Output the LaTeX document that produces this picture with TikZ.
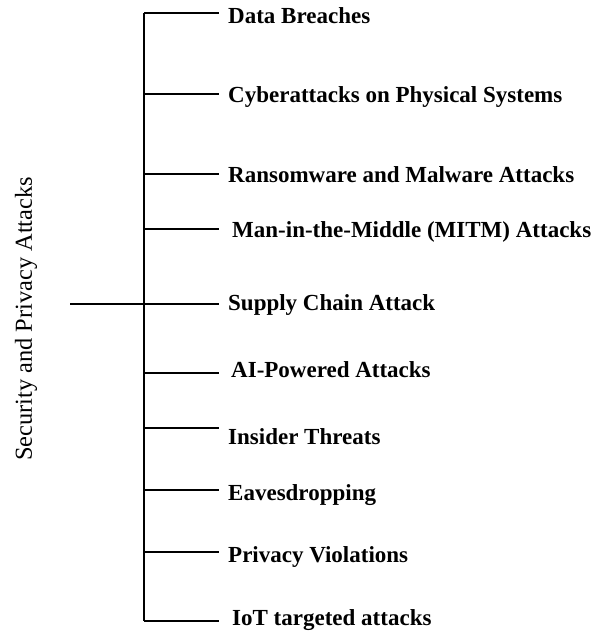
\documentclass[tikz,border=0pt]{standalone}
\usepackage{fontspec}
\setmainfont{Liberation Serif}
\usetikzlibrary{positioning}

\begin{document}
\begin{tikzpicture}[x=1pt, y=-1pt]

% Define styles
\tikzstyle{leaf} = [anchor=west, inner xsep=9pt, inner ysep=0pt, font=\fontsize{23}{26}\selectfont\bfseries]
\tikzstyle{line} = [line width=1.3pt]

\useasboundingbox (0,0) rectangle (596,632);

% Root label
\node[rotate=90, font=\fontsize{24.4}{28}\selectfont] (root) at (26,319) {Security and Privacy Attacks};
\coordinate (rootend) at (70,304);

% Spine points
\coordinate (s1) at (144,13);
\coordinate (s2) at (144,94);
\coordinate (s3) at (144,174);
\coordinate (s4) at (144,229);
\coordinate (s5) at (144,304);
\coordinate (s6) at (144,373);
\coordinate (s7) at (144,428);
\coordinate (s8) at (144,490);
\coordinate (s9) at (144,552);
\coordinate (s10) at (144,621);

% Leaves
\node[leaf] (breach) at (219,16) {Data Breaches};
\node[leaf] (physical) at (219,97) {Cyberattacks on Physical Systems};
\node[leaf] (ransom) at (219,175) {Ransomware and Malware Attacks};
\node[leaf, inner xsep=13pt] (mitm) at (219,232) {Man-in-the-Middle (MITM) Attacks};
\node[leaf] (supply) at (219,305) {Supply Chain Attack};
\node[leaf, inner xsep=12pt] (ai) at (219,370) {AI-Powered Attacks};
\node[leaf] (insider) at (219,437) {Insider Threats};
\node[leaf] (eaves) at (219,495) {Eavesdropping};
\node[leaf] (privacy) at (219,557) {Privacy Violations};
\node[leaf, inner xsep=13pt] (iot) at (219,620) {IoT targeted attacks};

% Lines
\draw[line] (s1) -- (s10);
\draw[line] (rootend) -- (s5);
\draw[line] (s1) -- (s1 -| breach.west);
\draw[line] (s2) -- (s2 -| physical.west);
\draw[line] (s3) -- (s3 -| ransom.west);
\draw[line] (s4) -- (s4 -| mitm.west);
\draw[line] (s5) -- (s5 -| supply.west);
\draw[line] (s6) -- (s6 -| ai.west);
\draw[line] (s7) -- (s7 -| insider.west);
\draw[line] (s8) -- (s8 -| eaves.west);
\draw[line] (s9) -- (s9 -| privacy.west);
\draw[line] (s10) -- (s10 -| iot.west);

\end{tikzpicture}
\end{document}
